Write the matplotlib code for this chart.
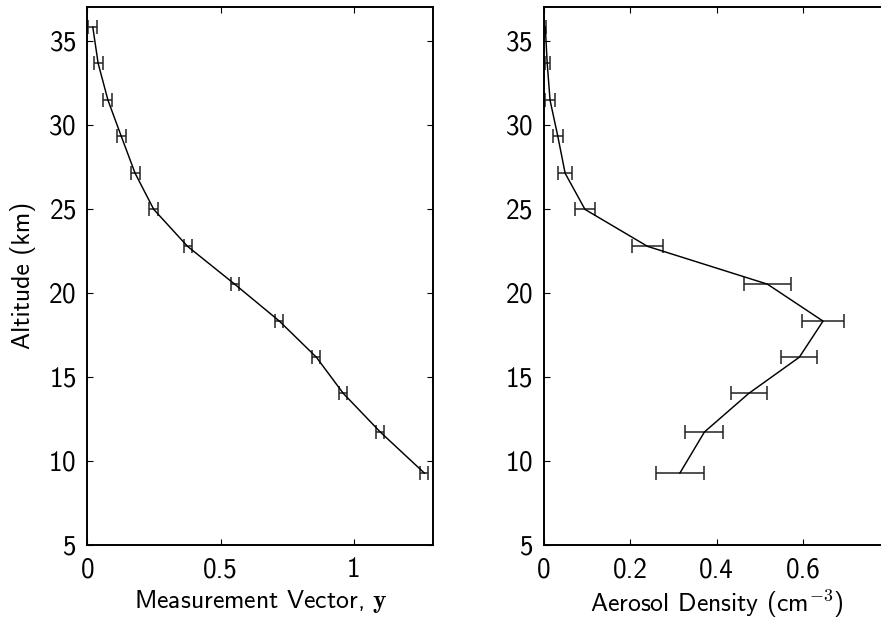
import matplotlib
matplotlib.use("Agg")
import matplotlib.pyplot as plt

plt.rcParams["font.family"] = ["cmss10", "DejaVu Sans"]
plt.rcParams["mathtext.fontset"] = "cm"
plt.rcParams["axes.formatter.use_mathtext"] = True

# Altitude grid shared by both profiles (km)
altitude = [35.8, 33.65, 31.45, 29.3, 27.1, 24.95, 22.75, 20.5, 18.3, 16.15, 14.0, 11.7, 9.25]

# Measurement vector y and its uncertainty
meas = [0.020, 0.040, 0.077, 0.127, 0.179, 0.249, 0.376, 0.553, 0.721, 0.860, 0.961, 1.100, 1.266]
meas_err = [0.017, 0.017, 0.017, 0.017, 0.017, 0.016, 0.015, 0.015, 0.015, 0.015, 0.015, 0.015, 0.015]

# Retrieved aerosol density (cm^-3) and its uncertainty
dens = [0.003, 0.0074, 0.014, 0.032, 0.049, 0.095, 0.240, 0.518, 0.647, 0.592, 0.475, 0.372, 0.315]
dens_err = [0.002, 0.006, 0.011, 0.012, 0.0155, 0.024, 0.037, 0.054, 0.049, 0.042, 0.042, 0.044, 0.055]

y_ticks = [5, 10, 15, 20, 25, 30, 35]
left_xticks = [0, 0.5, 1]
left_xticklabels = ["0", "0.5", "1"]
right_xticks = [0, 0.2, 0.4, 0.6]
right_xticklabels = ["0", "0.2", "0.4", "0.6"]

TICK_FS = 19.5
LABEL_FS = 18.5

fig = plt.figure(figsize=(8.81, 6.24), dpi=100)
ax1 = fig.add_axes([0.0993, 0.1274, 0.3927, 0.8614])
ax2 = fig.add_axes([0.6175, 0.1274, 0.3916, 0.8614])


def profile(ax, x, xerr):
    ax.errorbar(x, altitude, xerr=xerr, fmt="none", ecolor="#222222",
                elinewidth=1.1, capsize=5, capthick=1.1, zorder=2)
    ax.plot(x, altitude, color="black", lw=1.05, zorder=3)
    ax.set_ylim(5, 37)
    ax.set_yticks(y_ticks)
    ax.tick_params(direction="in", top=True, right=True, length=4,
                   width=0.8, pad=8, labelsize=TICK_FS)
    ax.tick_params(axis="x", pad=9)
    for s in ax.spines.values():
        s.set_linewidth(1.4)


profile(ax1, meas, meas_err)
ax1.set_xlim(0, 1.3)
ax1.set_xticks(left_xticks)
ax1.set_xticklabels(left_xticklabels)
ax1.set_xlabel(r"Measurement Vector, $\mathbf{y}$", fontsize=LABEL_FS, labelpad=4)
ax1.set_ylabel("Altitude (km)", fontsize=LABEL_FS)
ax1.yaxis.set_label_coords(-0.15, 0.5)

profile(ax2, dens, dens_err)
ax2.set_xlim(0, 0.8)
ax2.set_xticks(right_xticks)
ax2.set_xticklabels(right_xticklabels)
ax2.set_xlabel(r"Aerosol Density (cm$^{-3}$)", fontsize=LABEL_FS, labelpad=4)

fig.savefig("out.png", dpi=100)
